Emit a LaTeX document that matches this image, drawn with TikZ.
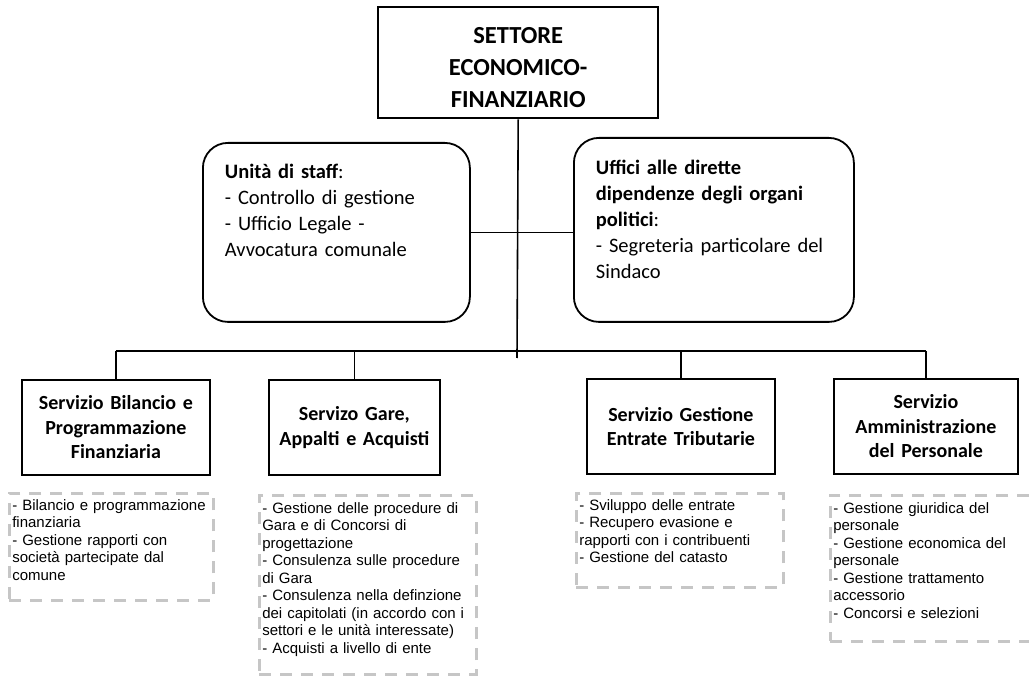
\documentclass[tikz,border=0pt]{standalone}
\usepackage{fontspec}
\setmainfont{Carlito}
\newfontfamily\arialfont{Liberation Sans}

\begin{document}
\begin{tikzpicture}[x=1pt,y=-1pt,
  settore/.style={draw,line width=2.4pt,anchor=north west,minimum width=280pt,
    text width=274pt,align=center,inner xsep=3pt,inner ysep=0pt,font=\bfseries\fontsize{24.5}{32}\selectfont},
  ufficio/.style={draw,line width=1.8pt,rounded corners=25pt,anchor=north west,inner ysep=0pt,
    align=left,font=\fontsize{20.5}{26}\selectfont},
  servizio/.style={draw,line width=1.8pt,anchor=north west,minimum height=95pt,inner sep=0pt,
    align=center,font=\bfseries\fontsize{20}{24.5}\selectfont},
  compiti/.style={draw=gray!45,line width=2.6pt,dash pattern=on 12pt off 9pt,anchor=north west,
    inner xsep=3pt,inner ysep=0pt,align=left,font=\arialfont\fontsize{15}{17.5}\selectfont},
  link/.style={line width=1.6pt}]

\useasboundingbox (0,0) rectangle (1029,676);

% vertice
\node[settore,text height=36pt,text depth=75pt] (settore) at (377,6) {SETTORE\\ECONOMICO-\\FINANZIARIO};

% staff e uffici
\node[ufficio,inner xsep=22pt,text width=223pt,text height=36pt,text depth=143pt] (staff) at (202,142)
  {\textbf{Unità di staff}:\\- Controllo di gestione\\- Ufficio Legale -\\Avvocatura comunale};
\node[ufficio,inner xsep=22pt,text width=236pt,text height=37pt,text depth=147pt] (uffici) at (573,137)
  {\textbf{Uffici alle dirette}\\\textbf{dipendenze degli organi}\\\textbf{politici}:\\- Segreteria particolare del\\Sindaco};

% servizi
\node[servizio,minimum width=188pt,text width=184pt] (bilancio) at (21,379)
  {Servizio Bilancio e\\Programmazione\\Finanziaria};
\node[servizio,minimum width=171pt,text width=167pt] (gare) at (268,379)
  {Servizo Gare,\\Appalti e Acquisti};
\node[servizio,minimum width=188pt,text width=184pt] (entrate) at (586,378)
  {Servizio Gestione\\Entrate Tributarie};
\node[servizio,minimum width=184pt,text width=180pt] (personale) at (833,378)
  {Servizio\\Amministrazione\\del Personale};

% compiti
\node[compiti,text width=198pt,text height=17pt,text depth=90pt] (cbilancio) at (8,492)
  {- Bilancio e programmazione\\finanziaria\\- Gestione rapporti con\\società partecipate dal\\comune};
\node[compiti,text width=211pt,text height=18pt,text depth=161pt] (cgare) at (258,494)
  {- Gestione delle procedure di\\Gara e di Concorsi di\\progettazione\\- Consulenza sulle procedure\\di Gara\\- Consulenza nella definzione\\dei capitolati (in accordo con i\\settori e le unità interessate)\\- Acquisti a livello di ente};
\node[compiti,text width=201pt,text height=17pt,text depth=77pt] (centrate) at (575,492)
  {- Sviluppo delle entrate\\- Recupero evasione e\\rapporti con i contribuenti\\- Gestione del catasto};
\node[compiti,text width=199pt,text height=18pt,text depth=128pt] (cpersonale) at (829,494)
  {- Gestione giuridica del\\personale\\- Gestione economica del\\personale\\- Gestione trattamento\\accessorio\\- Concorsi e selezioni};

% collegamenti
\coordinate (trunk) at (517,358);
\coordinate (busL) at (bilancio.north |- 0,351);
\coordinate (busR) at (personale.north |- 0,351);
\draw[link] (settore.south) -- (trunk);
\draw[link] (staff.east) -- (staff.east -| uffici.west);
\draw[link] (busL) -- (busR);
\draw[link] (busL) -- (bilancio.north);
\draw[link] (gare.north |- busL) -- (gare.north);
\draw[link] (entrate.north |- busL) -- (entrate.north);
\draw[link] (busR) -- (personale.north);

\end{tikzpicture}
\end{document}
